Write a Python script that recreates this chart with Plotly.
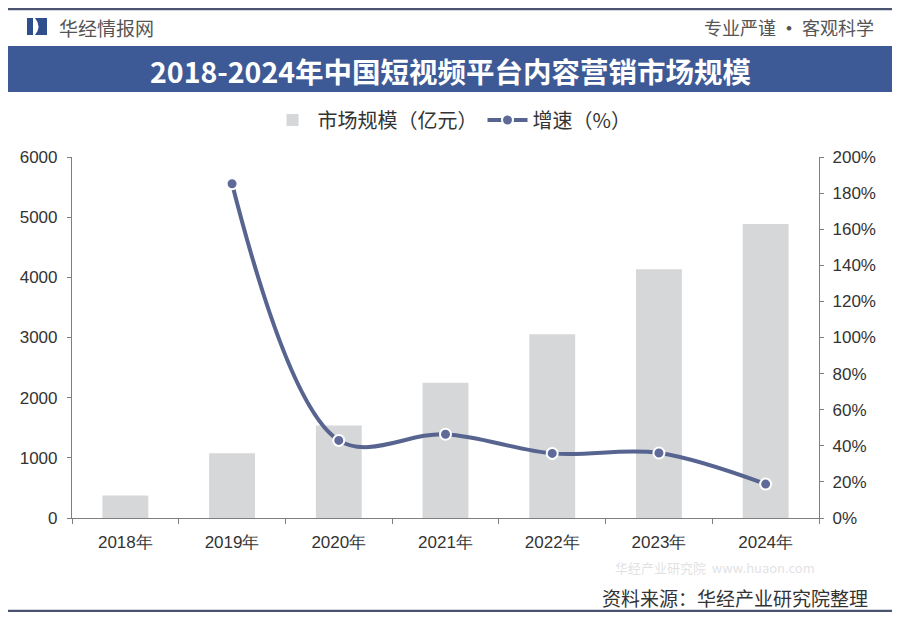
import plotly.graph_objects as go

# datos
years = ["2018年", "2019年", "2020年", "2021年", "2022年", "2023年", "2024年"]
market_size = [372, 1078, 1538, 2250, 3055, 4133, 4888]   # 亿元
growth = [None, 185.2, 43.0, 46.4, 35.8, 36.0, 18.8]       # %

# la pagina deja 8px de margen, se compensa
OFF = 8
W, H = 900 - 2 * OFF, 620 - 2 * OFF
ML, MR, MT, MB = 72 - OFF, 900 - 819 - OFF, 157 - OFF, 620 - 518 - OFF
CJK = "Noto Sans CJK SC"
NUM = "Liberation Sans, Arial, sans-serif"


# pixel de la referencia -> paper
def px(x):
    return (x - OFF - ML) / (W - ML - MR)


def py(y):
    return (H - MB - (y - OFF)) / (H - MT - MB)


fig = go.Figure()

fig.add_trace(go.Bar(
    x=years, y=market_size, name="市场规模（亿元）",
    marker=dict(color="#d6d7d9", line=dict(width=0)),
))

fig.add_trace(go.Scatter(
    x=years, y=growth, name="增速（%）", yaxis="y2",
    mode="lines+markers",
    line=dict(color="#56648f", width=4, shape="spline", smoothing=1.0),
    marker=dict(color="#5f6a98", size=11, line=dict(color="white", width=2)),
))

# marco, cabecera y barra de titulo
shapes = [
    dict(type="line", xref="paper", yref="paper", x0=px(8), x1=px(892), y0=py(9), y1=py(9),
         line=dict(color="#4b5572", width=2.5)),
    dict(type="line", xref="paper", yref="paper", x0=px(8), x1=px(892), y0=py(611), y1=py(611),
         line=dict(color="#4b5572", width=2.5)),
    dict(type="rect", xref="paper", yref="paper", x0=px(8), x1=px(892), y0=py(92), y1=py(46),
         fillcolor="#3e5a96", line=dict(width=0), layer="below"),
    # logo
    dict(type="rect", xref="paper", yref="paper", x0=px(27), x1=px(33), y0=py(35), y1=py(18),
         fillcolor="#2f4f8c", line=dict(width=0)),
    dict(type="path", xref="paper", yref="paper",
         path=f"M {px(35)},{py(18)} L {px(47)},{py(18)} L {px(47)},{py(35)} L {px(35)},{py(35)} "
              f"Q {px(42)},{py(26.5)} {px(35)},{py(18)} Z",
         fillcolor="#2f4f8c", line=dict(width=0)),
]

annotations = [
    dict(text="华经情报网", x=px(57), y=py(27), xanchor="left", yanchor="middle",
         font=dict(family=CJK, size=19, color="#555555")),
    dict(text="专业严谨 <b>•</b> 客观科学", x=px(876), y=py(27), xanchor="right", yanchor="middle",
         font=dict(family=CJK, size=18, color="#555555")),
    dict(text="<b>2018-2024年中国短视频平台内容营销市场规模</b>", x=px(450), y=py(70),
         xanchor="center", yanchor="middle",
         font=dict(family=CJK, size=28.5, color="white")),
    dict(text="资料来源：华经产业研究院整理", x=px(870), y=py(597), xanchor="right", yanchor="middle",
         font=dict(family=CJK, size=19, color="#333333")),
    # marca de agua
    dict(text="华经产业研究院  www.huaon.com", x=px(715), y=py(567), xanchor="center", yanchor="middle",
         font=dict(family=CJK, size=13, color="rgba(200,200,205,0.55)")),
]
for a in annotations:
    a.update(xref="paper", yref="paper", showarrow=False)

axis_font = dict(family=NUM, size=17, color="#333333")

fig.update_layout(
    width=W, height=H,
    margin=dict(l=ML, r=MR, t=MT, b=MB),
    paper_bgcolor="white", plot_bgcolor="white",
    bargap=0.57,
    showlegend=True,
    legend=dict(orientation="h", x=px(452), xanchor="center", y=py(120), yanchor="middle",
                font=dict(family=CJK, size=20, color="#333333"), itemwidth=40,
                bgcolor="rgba(0,0,0,0)"),
    xaxis=dict(type="category", showline=True, linecolor="#7f7f7f", linewidth=1.2,
               ticks="outside", tickson="boundaries", ticklen=5, tickcolor="#7f7f7f",
               showgrid=False, tickfont=axis_font, ticklabelstandoff=8),
    yaxis=dict(range=[0, 6000], dtick=1000, showline=True, linecolor="#7f7f7f", linewidth=1.2,
               ticks="outside", ticklen=4, tickcolor="#7f7f7f", showgrid=False, zeroline=False,
               tickfont=axis_font, ticklabelstandoff=6),
    yaxis2=dict(range=[0, 200], dtick=20, ticksuffix="%", overlaying="y", side="right",
                showline=True, linecolor="#7f7f7f", linewidth=1.2, ticks="outside", ticklen=4,
                tickcolor="#7f7f7f", showgrid=False, zeroline=False,
                tickfont=axis_font, ticklabelstandoff=5),
    shapes=shapes,
    annotations=annotations,
)

fig.write_html("out.html")
